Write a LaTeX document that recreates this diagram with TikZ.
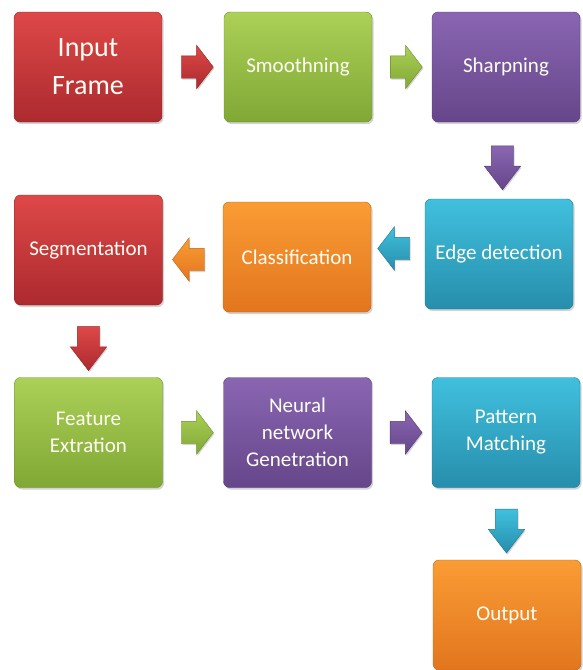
\documentclass[tikz,border=0pt]{standalone}
\usepackage{fontspec}
\setmainfont{Carlito}
\usetikzlibrary{shapes.arrows,shadows,calc}

\definecolor{redtop}{RGB}{222,72,72}
\definecolor{redbot}{RGB}{172,42,46}
\definecolor{greentop}{RGB}{172,208,88}
\definecolor{greenbot}{RGB}{128,168,52}
\definecolor{purpletop}{RGB}{138,102,178}
\definecolor{purplebot}{RGB}{102,70,138}
\definecolor{cyantop}{RGB}{64,192,222}
\definecolor{cyanbot}{RGB}{38,142,172}
\definecolor{orangetop}{RGB}{250,156,52}
\definecolor{orangebot}{RGB}{226,118,30}

\tikzset{
  stage/.style={rounded corners=6pt, minimum width=148pt, minimum height=110pt,
    text={white!96!yellow}, align=center, font=\fontsize{21}{27}\selectfont,
    drop shadow={shadow xshift=1.5pt, shadow yshift=-2pt, opacity=.35}},
  flow/.style={single arrow, single arrow head extend=10.5pt, single arrow tip angle=105,
    minimum height=32pt, inner xsep=0pt, inner ysep=11pt,
    drop shadow={shadow xshift=1pt, shadow yshift=-1.5pt, opacity=.35}},
  flowdown/.style={flow, shape border rotate=270, inner xsep=11pt, inner ysep=0pt,
    single arrow head extend=7pt, single arrow tip angle=75, minimum height=44pt},
  flowleft/.style={flow, shape border rotate=180},
  tone/.style={top color=#1top, bottom color=#1bot, draw=#1bot!85!black, line width=.4pt}
}

\begin{document}
\begin{tikzpicture}[x=1pt, y=-1pt]
  \useasboundingbox (0,0) rectangle (582,670);

  % stages
  \node[stage, tone=red, font=\fontsize{28}{38}\selectfont] (input) at (88,67) {Input\\Frame};
  \node[stage, tone=green] (smooth) at (298,67) {Smoothning};
  \node[stage, tone=purple] (sharp) at (506,67) {Sharpning};

  \node[stage, tone=red] (seg) at (88.5,250) {Segmentation};
  \node[stage, tone=orange] (class) at (297,257) {Classification};
  \node[stage, tone=cyan] (edge) at (499,254) {Edge detection};

  \node[stage, tone=green] (feat) at (88.5,432.5) {Feature\\Extration};
  \node[stage, tone=purple] (neural) at (297.5,432.5) {Neural\\network\\Genetration};
  \node[stage, tone=cyan] (pattern) at (506,432.5) {Pattern\\Matching};

  \node[stage, tone=orange] (out) at (507,615) {Output};

  % block arrows
  \node[flow, tone=red] (a1) at ($(input.east)!0.5!(smooth.west)$) {};
  \node[flow, tone=green] (a2) at ($(smooth.east)!0.5!(sharp.west)$) {};
  \node[flowdown, tone=purple] (a3) at ($(sharp.south)!0.5!(edge.north)$) {};
  \node[flowleft, tone=cyan] (a4) at ($(edge.west)!0.5!(class.east)+(0,-7)$) {};
  \node[flowleft, tone=orange] (a5) at ($(class.west)!0.5!(seg.east)+(0,6)$) {};
  \node[flowdown, tone=red] (a6) at ($(seg.south)!0.5!(feat.north)$) {};
  \node[flow, tone=green] (a7) at ($(feat.east)!0.5!(neural.west)$) {};
  \node[flow, tone=purple] (a8) at ($(neural.east)!0.5!(pattern.west)$) {};
  \node[flowdown, tone=cyan] (a9) at ($(pattern.south)!0.5!(out.north)$) {};
\end{tikzpicture}
\end{document}
